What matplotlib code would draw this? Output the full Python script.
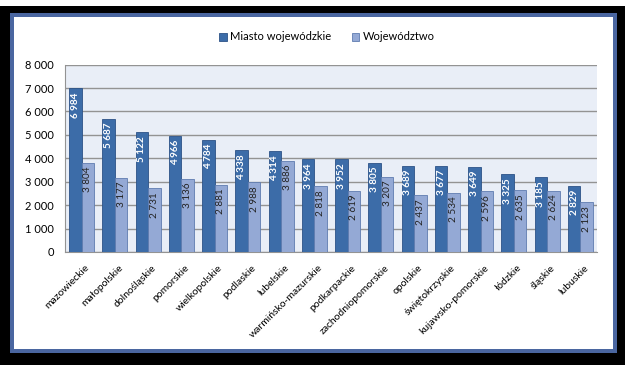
import numpy as np
import matplotlib.pyplot as plt
from matplotlib.patches import Rectangle

plt.rcParams['font.family'] = ['Lato', 'DejaVu Sans']

regions = ['mazowieckie', 'małopolskie', 'dolnośląskie', 'pomorskie', 'wielkopolskie',
           'podlaskie', 'lubelskie', 'warmińsko-mazurskie', 'podkarpackie',
           'zachodniopomorskie', 'opolskie', 'świętokrzyskie', 'kujawsko-pomorskie',
           'łódzkie', 'śląskie', 'lubuskie']
city = [6984, 5687, 5122, 4966, 4784, 4338, 4314, 3964, 3952, 3805, 3689, 3677, 3649, 3325, 3185, 2829]
voiv = [3804, 3177, 2731, 3136, 2881, 2988, 3886, 2818, 2619, 3207, 2437, 2534, 2596, 2635, 2624, 2123]
yticks = [0, 1000, 2000, 3000, 4000, 5000, 6000, 7000, 8000]

W, H = 625, 365
fig = plt.figure(figsize=(W / 100, H / 100), dpi=100)
fig.patch.set_facecolor('black')


def px_rect(x0, y0, x1, y1, color, z):
    # rectangle in pixel coords measured from the top-left corner
    fig.patches.append(Rectangle((x0 / W, 1 - y1 / H), (x1 - x0) / W, (y1 - y0) / H,
                                 transform=fig.transFigure, facecolor=color,
                                 edgecolor='none', zorder=z))


px_rect(0, 0, W, 6, 'white', 0)
px_rect(10, 13, 617, 353, '#4a66a0', 1)
px_rect(14, 17, 613, 349, 'white', 2)

ax = fig.add_axes([65 / W, 1 - 252 / H, 532 / W, (252 - 64.6) / H])
ax.set_zorder(5)
ax.set_facecolor('#e9eef7')

x = np.arange(len(regions))
bw = 0.375
b1 = ax.bar(x - bw / 2, city, bw, color='#3c6ca8', edgecolor='#2c5287', linewidth=0.6,
            label='Miasto wojewódzkie', zorder=3)
b2 = ax.bar(x + bw / 2, voiv, bw, color='#94a9d5', edgecolor='#5f7cb0', linewidth=0.6,
            label='Województwo', zorder=3)

def fmt(v):
    return f'{v:,}'.replace(',', ' ')

for xi, v in zip(x, city):
    ax.text(xi - bw / 2, v - 170, fmt(v), rotation=90, ha='center', va='top',
            color='white', fontsize=7.2, fontweight='bold', zorder=4)
for xi, v in zip(x, voiv):
    ax.text(xi + bw / 2, v - 170, fmt(v), rotation=90, ha='center', va='top',
            color='#222222', fontsize=7.2, zorder=4)

ax.set_xlim(-0.5, len(regions) - 0.5)
ax.set_ylim(0, 8000)
ax.set_yticks(yticks)
ax.set_yticklabels([fmt(t) for t in yticks], fontsize=8)
ax.set_xticks(x + 0.1)
ax.set_xticklabels(regions, rotation=45, ha='right', rotation_mode='anchor', fontsize=7.5)
ax.tick_params(axis='x', length=0, pad=8)
ax.tick_params(axis='y', length=0, pad=8)
ax.yaxis.grid(True, color='#939393', linewidth=1.0, zorder=1)
ax.set_axisbelow(True)
for s in ['top', 'right']:
    ax.spines[s].set_visible(False)
for s in ['left', 'bottom']:
    ax.spines[s].set_color('#939393')

fig.legend(handles=[b1, b2], loc='center', bbox_to_anchor=(327 / W, 1 - 37 / H), ncol=2,
           frameon=False, fontsize=8, handlelength=0.7, handleheight=0.7,
           handletextpad=0.3, columnspacing=1.8)

fig.savefig('out.png', dpi=100, facecolor=fig.get_facecolor())
